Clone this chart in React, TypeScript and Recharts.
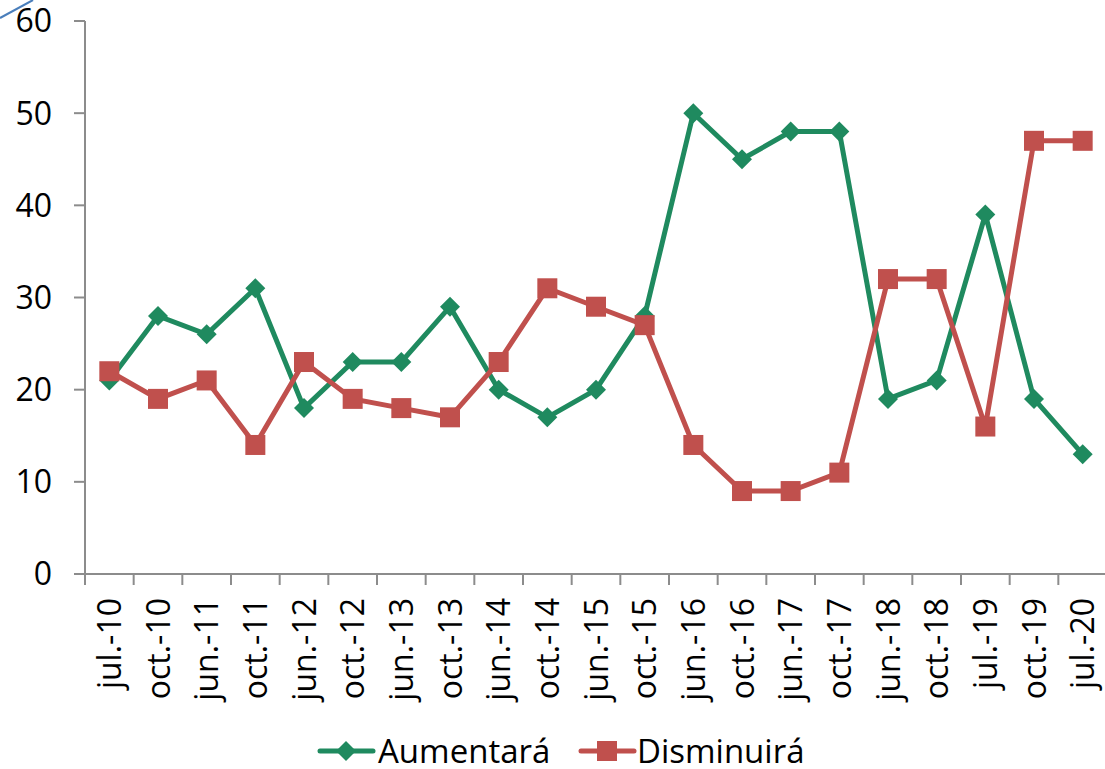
import React from "react";
import { LineChart, Line, XAxis, YAxis, Legend } from "recharts";

const categories = ["jul.-10","oct.-10","jun.-11","oct.-11","jun.-12","oct.-12","jun.-13","oct.-13","jun.-14","oct.-14","jun.-15","oct.-15","jun.-16","oct.-16","jun.-17","oct.-17","jun.-18","oct.-18","jul.-19","oct.-19","jul.-20"];
const aumentara = [21,28,26,31,18,23,23,29,20,17,20,28,50,45,48,48,19,21,39,19,13];
const disminuira = [22,19,21,14,23,19,18,17,23,31,29,27,14,9,9,11,32,32,16,47,47];
const yTicks = [0,10,20,30,40,50,60];

const GREEN = "#1F8A5F";
const RED = "#C0504D";
const AXIS = "#8C8C8C";
const FONT = "'Open Sans', 'Liberation Sans', sans-serif";
const FS = 32;
const CHART_W = 1107;
const Y_W = 85;
const BAND = (CHART_W - Y_W) / categories.length;

const data = categories.map((c, i) => ({ cat: c, a: aumentara[i], d: disminuira[i] }));

const Diamond = (props: any) => {
  const { cx, cy } = props;
  if (cx == null || cy == null) return null;
  const r = 10;
  return <polygon key={`a${props.index}`} points={`${cx},${cy - r} ${cx + r},${cy} ${cx},${cy + r} ${cx - r},${cy}`} fill={GREEN} />;
};
const Square = (props: any) => {
  const { cx, cy } = props;
  if (cx == null || cy == null) return null;
  const s = 20;
  return <rect key={`d${props.index}`} x={cx - s / 2} y={cy - s / 2} width={s} height={s} fill={RED} />;
};

const XTick = (props: any) => {
  const { x, y, payload, index } = props;
  const left = x - BAND / 2;
  const right = x + BAND / 2;
  return (
    <g>
      <line x1={left} y1={y - 11} x2={left} y2={y} stroke={AXIS} strokeWidth={2} />
      {index === categories.length - 1 ? (
        <line x1={right} y1={y - 11} x2={right} y2={y} stroke={AXIS} strokeWidth={2} />
      ) : null}
      <text x={x} y={y} transform={`rotate(-90 ${x} ${y})`} dx={-13} dy="0.36em" textAnchor="end" fontSize={FS} fontFamily={FONT} fill="#000">
        {payload.value}
      </text>
    </g>
  );
};

const LegendContent = () => (
  <svg width={1105} height={50} style={{ display: "block", overflow: "visible" }}>
    <g transform="translate(320,32)">
      <line x1={0} y1={0} x2={53} y2={0} stroke={GREEN} strokeWidth={5} strokeLinecap="round" />
      <polygon points="26,-10 36,0 26,10 16,0" fill={GREEN} />
      <text x={58} y={0} dy="0.36em" fontSize={33} fontFamily={FONT} fill="#000">Aumentará</text>
    </g>
    <g transform="translate(581,32)">
      <line x1={0} y1={0} x2={53} y2={0} stroke={RED} strokeWidth={5} strokeLinecap="round" />
      <rect x={16} y={-10} width={20} height={20} fill={RED} />
      <text x={56} y={0} dy="0.36em" fontSize={33} fontFamily={FONT} fill="#000">Disminuirá</text>
    </g>
  </svg>
);

export default function App() {
  return (
    <div style={{ position: "absolute", left: 0, top: 0, width: 1105, height: 769, background: "#fff", overflow: "hidden" }}>
      <LineChart width={CHART_W} height={769} data={data} margin={{ top: 21, right: 0, bottom: 0, left: 0 }}>
        <XAxis
          dataKey="cat"
          interval={0}
          height={145}
          padding={{ left: BAND / 2, right: BAND / 2 }}
          tick={<XTick />}
          tickSize={11}
          tickMargin={0}
          tickLine={false}
          axisLine={{ stroke: AXIS, strokeWidth: 2 }}
        />
        <YAxis
          domain={[0, 60]}
          ticks={yTicks}
          width={Y_W}
          tickSize={11}
          tickMargin={22}
          tick={{ fontSize: FS, fontFamily: FONT, fill: "#000" }}
          axisLine={{ stroke: AXIS, strokeWidth: 2 }}
          tickLine={{ stroke: AXIS, strokeWidth: 2 }}
        />
        <Legend verticalAlign="bottom" height={50} content={<LegendContent />} />
        <Line type="linear" dataKey="a" name="Aumentará" stroke={GREEN} strokeWidth={5} dot={<Diamond />} activeDot={false} isAnimationActive={false} />
        <Line type="linear" dataKey="d" name="Disminuirá" stroke={RED} strokeWidth={5} dot={<Square />} activeDot={false} isAnimationActive={false} />
      </LineChart>
      <svg width={40} height={25} style={{ position: "absolute", left: 0, top: 0 }}>
        <line x1={0} y1={18} x2={33} y2={0} stroke="#4A7EBB" strokeWidth={2} />
      </svg>
    </div>
  );
}
